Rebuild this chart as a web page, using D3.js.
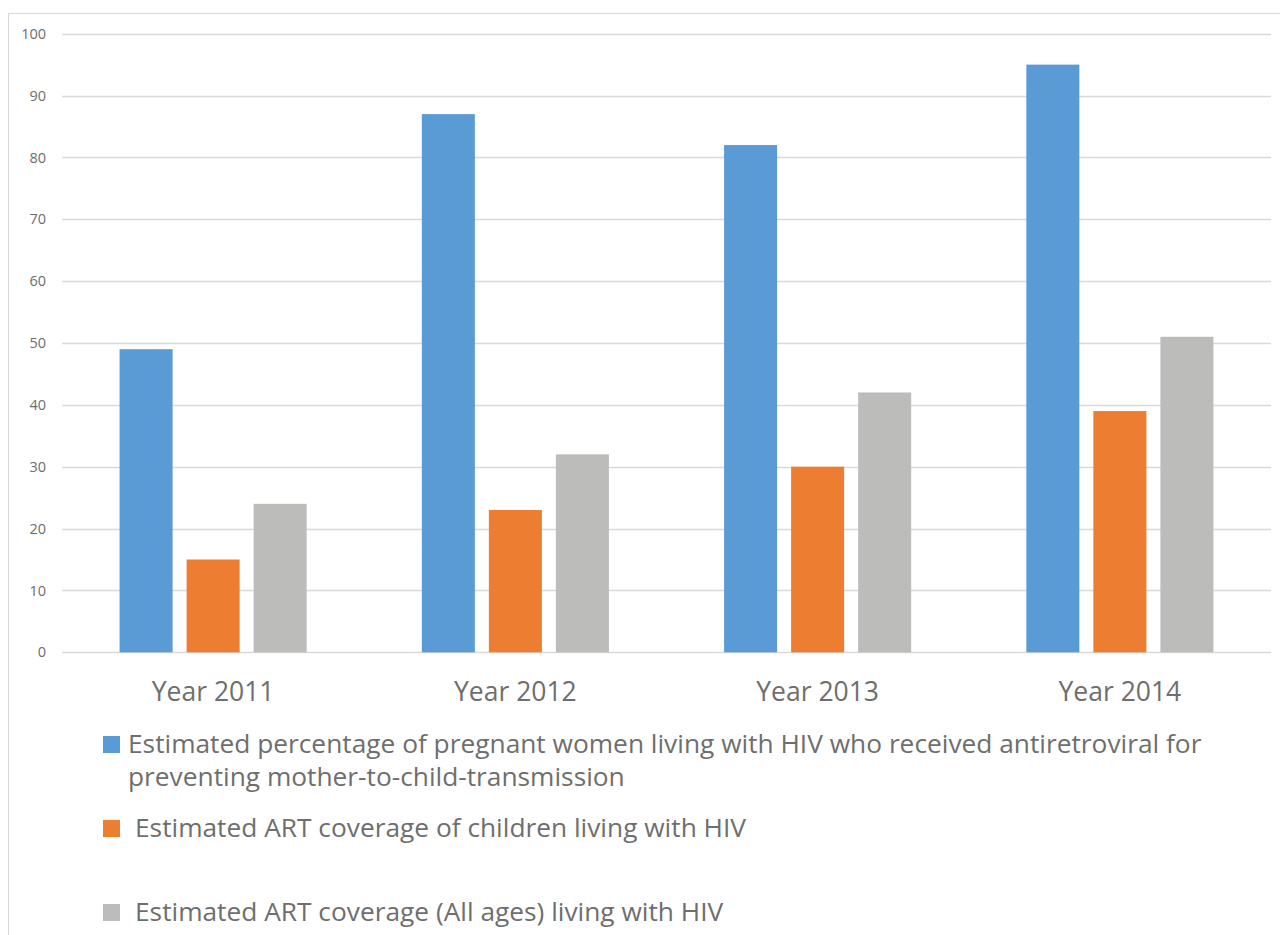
<!DOCTYPE html>
<html><head><meta charset="utf-8">
<script src="https://cdn.jsdelivr.net/npm/d3@7"></script>
<style>body{margin:0;background:#fff}svg{display:block}text{font-family:"Open Sans",sans-serif}</style>
</head><body>
<svg id="c" width="1280" height="935"></svg>
<script>
const categories = ["Year 2011","Year 2012","Year 2013","Year 2014"];
const seriesNames = [
  ["Estimated percentage of pregnant women living with HIV who received antiretroviral for","preventing mother-to-child-transmission"],
  ["Estimated ART coverage of children living with HIV"],
  ["Estimated ART coverage (All ages) living with HIV"]
];
const pregnantWomen = [49, 87, 82, 95];
const childrenART = [15, 23, 30, 39];
const allAgesART = [24, 32, 42, 51];
const yTicks = [0,10,20,30,40,50,60,70,80,90,100];
const colors = ["#5b9bd5","#ed7d31","#bcbcbb"];

const series = [pregnantWomen, childrenART, allAgesART];
const svg = d3.select("#c");
svg.append("rect").attr("x",8.5).attr("y",13.5).attr("width",1290).attr("height",940)
  .attr("fill","none").attr("stroke","#d9d9d9");

const left=62, right=1271, y0=652.3, y100=33.7;
const x0 = d3.scaleBand().domain(categories).range([left,right]).paddingInner(0.381).paddingOuter(0.1905);
const x1 = d3.scaleBand().domain([0,1,2]).range([0,x0.bandwidth()]).paddingInner(0.209).paddingOuter(0);
const y = d3.scaleLinear().domain([0,100]).range([y0,y100]);

const grid = svg.append("g");
grid.selectAll("line").data(yTicks).join("line")
  .attr("x1",left).attr("x2",right).attr("y1",d=>Math.round(y(d))+0.5).attr("y2",d=>Math.round(y(d))+0.5)
  .attr("stroke","#d9d9d9").attr("stroke-width",1.3);

const yAxis = d3.axisLeft(y).tickValues(yTicks).tickSize(0).tickPadding(0);
const ya = svg.append("g").attr("transform",`translate(${46},0)`).call(yAxis);
ya.select(".domain").remove();
ya.selectAll("text").attr("font-size",14.5).attr("fill","#6d6d6d").attr("font-family","'Open Sans',sans-serif");

const groups = svg.append("g").selectAll("g").data(categories).join("g")
  .attr("transform",d=>`translate(${x0(d)},0)`);
groups.selectAll("rect").data((d,i)=>series.map((s,k)=>({k,v:s[i]}))).join("rect")
  .attr("x",d=>x1(d.k)).attr("width",x1.bandwidth())
  .attr("y",d=>y(d.v)).attr("height",d=>y(0)-y(d.v))
  .attr("fill",d=>colors[d.k]);

const xAxis = d3.axisBottom(x0).tickSize(0).tickPadding(0);
const xa = svg.append("g").attr("transform",`translate(0,${701})`).call(xAxis);
xa.select(".domain").remove();
xa.selectAll("text").attr("font-size",26.5).attr("fill","#6e6e6e").attr("dy",0).attr("font-family","'Open Sans',sans-serif");

// legend
const legY = [736, 820, 904];
const legTextX = [128, 135, 135];
const leg = svg.append("g");
seriesNames.forEach((lines,k)=>{
  leg.append("rect").attr("x",103).attr("y",legY[k]).attr("width",17).attr("height",17).attr("fill",colors[k]);
  lines.forEach((t,j)=>{
    leg.append("text").attr("x",legTextX[k]).attr("y",legY[k]+17+j*33)
      .attr("font-size",26.3).attr("fill","#6e6e6e").text(t);
  });
});
</script>
</body></html>
